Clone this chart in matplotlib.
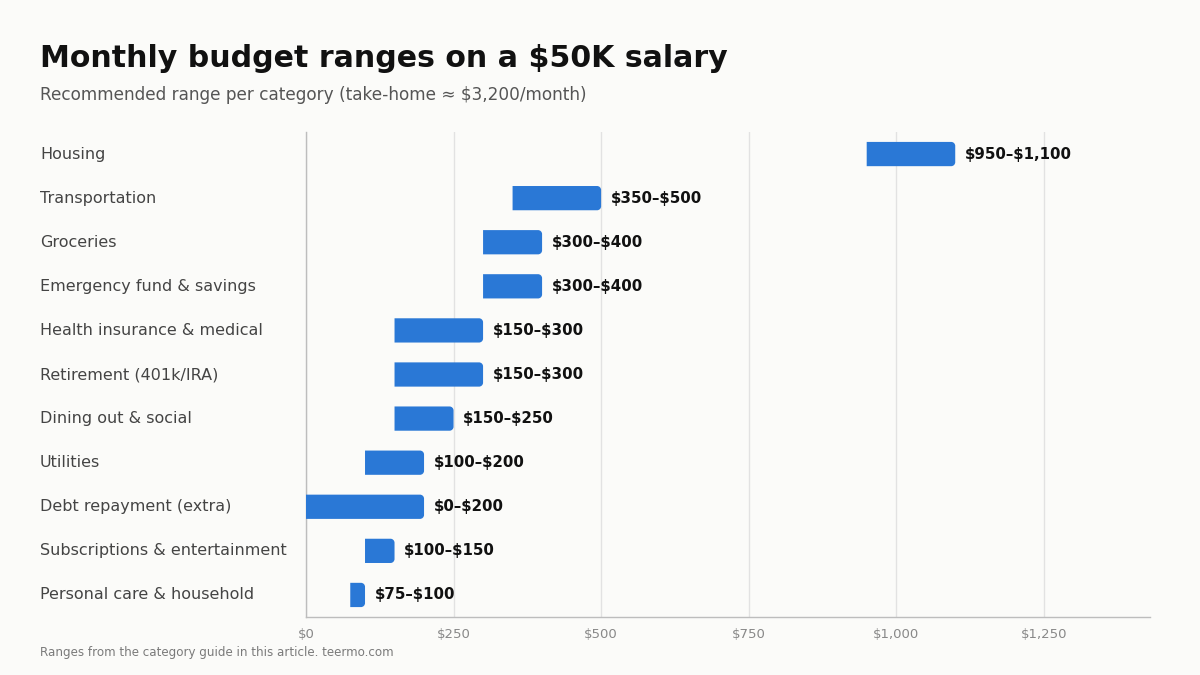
import matplotlib
matplotlib.use("Agg")
import matplotlib.pyplot as plt
from matplotlib.patches import PathPatch
from matplotlib.path import Path
from matplotlib.transforms import blended_transform_factory
from matplotlib.ticker import FuncFormatter

# ── Datos ──────────────────────────────────────────────────────────────────────
categories = [
    "Housing", "Transportation", "Groceries", "Emergency fund & savings",
    "Health insurance & medical", "Retirement (401k/IRA)", "Dining out & social",
    "Utilities", "Debt repayment (extra)", "Subscriptions & entertainment",
    "Personal care & household",
]
low  = [950, 350, 300, 300, 150, 150, 150, 100, 0, 100, 75]
high = [1100, 500, 400, 400, 300, 300, 250, 200, 200, 150, 100]
range_labels = [
    "$950–$1,100", "$350–$500", "$300–$400", "$300–$400", "$150–$300",
    "$150–$300", "$150–$250", "$100–$200", "$0–$200", "$100–$150", "$75–$100",
]
xticks = [0, 250, 500, 750, 1000, 1250]

# ── Estilo ─────────────────────────────────────────────────────────────────────
BG    = "#FBFBF9"
BLUE  = "#2A78D6"
DARK  = "#111111"
LABEL = "#444444"
TICK  = "#888888"
GRID  = "#E2E2E2"
SPINE = "#BDBDBD"

plt.rcParams["font.family"] = "DejaVu Sans"
plt.rcParams["text.parse_math"] = False

W, H = 1200, 675
fig = plt.figure(figsize=(12, 6.75), dpi=100)
fig.patch.set_facecolor(BG)
ax = fig.add_axes([306 / W, 1 - 617 / H, (1150 - 306) / W, (617 - 132) / H])
ax.set_facecolor(BG)

n = len(categories)
xmax = 1430
ax.set_xlim(0, xmax)
ax.set_ylim(n - 0.5, -0.5)

# escalas para esquinas redondeadas (px -> datos)
ux = xmax / (1150 - 306)
uy = n / (617 - 132)
r_px = 4
bar_h = 0.55
K = 0.5523


def bar_path(lo, hi, y0, y1):
    """Barra con esquinas redondeadas sólo a la derecha."""
    rx = min(r_px * ux, (hi - lo) / 2)
    ry = r_px * uy
    verts = [
        (lo, y0), (hi - rx, y0),
        (hi - rx + K * rx, y0), (hi, y0 + ry - K * ry), (hi, y0 + ry),
        (hi, y1 - ry),
        (hi, y1 - ry + K * ry), (hi - rx + K * rx, y1), (hi - rx, y1),
        (lo, y1), (lo, y0),
    ]
    codes = [Path.MOVETO, Path.LINETO,
             Path.CURVE4, Path.CURVE4, Path.CURVE4,
             Path.LINETO,
             Path.CURVE4, Path.CURVE4, Path.CURVE4,
             Path.LINETO, Path.CLOSEPOLY]
    return Path(verts, codes)


for i, (lo, hi) in enumerate(zip(low, high)):
    ax.add_patch(PathPatch(bar_path(lo, hi, i - bar_h / 2, i + bar_h / 2),
                           facecolor=BLUE, edgecolor="none", zorder=3))
    ax.text(hi + 16, i, range_labels[i], va="center", ha="left",
            fontsize=10.8, fontweight="bold", color=DARK, zorder=4)

# etiquetas de categoría alineadas a la izquierda
tr = blended_transform_factory(fig.transFigure, ax.transData)
for i, c in enumerate(categories):
    ax.text(40 / W, i, c, transform=tr, va="center", ha="left",
            fontsize=11.5, color=LABEL)

ax.set_yticks([])
ax.set_xticks(xticks)
ax.xaxis.set_major_formatter(FuncFormatter(lambda v, p: f"${v:,.0f}"))
ax.tick_params(axis="x", length=0, pad=8, labelsize=9.5, labelcolor=TICK)
ax.grid(axis="x", color=GRID, lw=1, zorder=0)
ax.set_axisbelow(True)
for s in ["top", "right"]:
    ax.spines[s].set_visible(False)
for s in ["left", "bottom"]:
    ax.spines[s].set_color(SPINE)
    ax.spines[s].set_linewidth(1)

# ── Textos ─────────────────────────────────────────────────────────────────────
fig.text(40 / W, 1 - 67 / H, "Monthly budget ranges on a $50K salary",
         fontsize=21.6, fontweight="bold", color=DARK, va="baseline")
fig.text(40 / W, 1 - 100 / H,
         "Recommended range per category (take-home ≈ $3,200/month)",
         fontsize=12.2, color="#555555", va="baseline")
fig.text(40 / W, 1 - 656 / H,
         "Ranges from the category guide in this article. teermo.com",
         fontsize=8.6, color="#7A7A7A", va="baseline")

fig.savefig("out.png", dpi=100, facecolor=BG)
